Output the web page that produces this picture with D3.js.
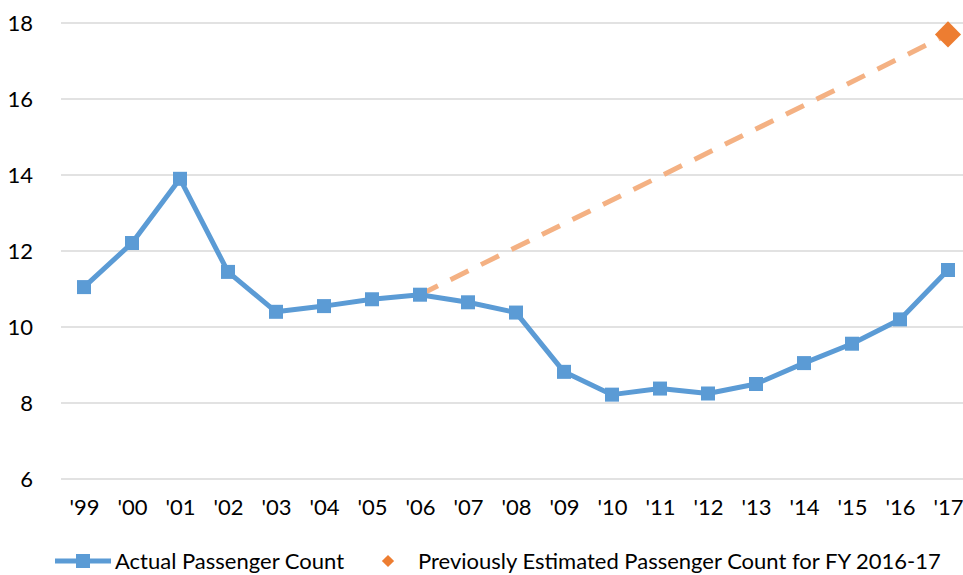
<!DOCTYPE html>
<html>
<head>
<meta charset="utf-8">
<script src="https://cdn.jsdelivr.net/npm/d3@7"></script>
<style>
  html, body { margin: 0; padding: 0; background: #fff; }
  svg { display: block; font-family: Lato, "Open Sans", sans-serif; }
</style>
</head>
<body>
<svg id="chart" width="963" height="575"></svg>
<script>
// Fiscal years shown along the x axis
const years = ["'99","'00","'01","'02","'03","'04","'05","'06","'07","'08","'09","'10","'11","'12","'13","'14","'15","'16","'17"];
// Actual passenger count (millions)
const actual = [11.05, 12.21, 13.9, 11.45, 10.4, 10.55, 10.73, 10.85, 10.65, 10.38, 8.82, 8.22, 8.38, 8.25, 8.5, 9.05, 9.56, 10.2, 11.5];
// Earlier projection: from the '06 actual to the FY 2016-17 estimate
const projYears = ["'06", "'17"];
const projValues = [10.85, 17.7];
const yTicks = [6, 8, 10, 12, 14, 16, 18];

const svg = d3.select("#chart");
const x = d3.scalePoint().domain(years).range([84, 948]);
const y = d3.scaleLinear().domain([6, 18]).range([479, 23]);

// Gridlines
svg.append("g").selectAll("line").data(yTicks).join("line")
  .attr("x1", 61).attr("x2", 963)
  .attr("y1", d => y(d)).attr("y2", d => y(d))
  .attr("stroke", "#d9d9d9").attr("stroke-width", 1.5);

// Y axis labels
const yAxis = svg.append("g").attr("transform", "translate(33,0)")
  .call(d3.axisLeft(y).tickValues(yTicks).tickSize(0).tickPadding(0).tickFormat(d3.format("d")));
yAxis.select(".domain").remove();
yAxis.selectAll("text").attr("font-size", 22).attr("fill", "#000").attr("font-family", "Lato, sans-serif");

// X axis labels
const xAxis = svg.append("g").attr("transform", "translate(0,499)")
  .call(d3.axisBottom(x).tickSize(0).tickPadding(0));
xAxis.select(".domain").remove();
xAxis.selectAll("text").attr("font-size", 22).attr("fill", "#000").attr("font-family", "Lato, sans-serif");

// Projection dashed line
svg.append("path")
  .datum(projYears.map((yr, i) => [yr, projValues[i]]))
  .attr("d", d3.line().x(d => x(d[0])).y(d => y(d[1])))
  .attr("fill", "none").attr("stroke", "#F4B183").attr("stroke-width", 5)
  .attr("stroke-dasharray", "20,14");

// Actual line
svg.append("path")
  .datum(years.map((yr, i) => [yr, actual[i]]))
  .attr("d", d3.line().x(d => x(d[0])).y(d => y(d[1])))
  .attr("fill", "none").attr("stroke", "#5B9BD5").attr("stroke-width", 5)
  .attr("stroke-linejoin", "round");

// Square markers
const sq = 14;
svg.append("g").selectAll("rect").data(years.map((yr, i) => [yr, actual[i]])).join("rect")
  .attr("x", d => x(d[0]) - sq / 2).attr("y", d => y(d[1]) - sq / 2)
  .attr("width", sq).attr("height", sq).attr("fill", "#5B9BD5");

// Estimate marker (diamond)
svg.append("path")
  .attr("d", d3.symbol(d3.symbolSquare, 340)())
  .attr("transform", `translate(${x(projYears[1])},${y(projValues[1])}) rotate(45)`)
  .attr("fill", "#ED7D31");

// Legend
const lg = svg.append("g").attr("transform", "translate(0,561)");
lg.append("line").attr("x1", 55).attr("x2", 111).attr("y1", 0).attr("y2", 0)
  .attr("stroke", "#5B9BD5").attr("stroke-width", 5);
lg.append("rect").attr("x", 76).attr("y", -7).attr("width", 14).attr("height", 14).attr("fill", "#5B9BD5");
lg.append("text").attr("x", 115).attr("y", 0).attr("dy", "0.35em")
  .attr("font-size", 22).text("Actual Passenger Count");
lg.append("path").attr("d", d3.symbol(d3.symbolSquare, 75)())
  .attr("transform", "translate(388,0) rotate(45)").attr("fill", "#ED7D31");
lg.append("text").attr("x", 418).attr("y", 0).attr("dy", "0.35em")
  .attr("font-size", 22).text("Previously Estimated Passenger Count for FY 2016-17");
</script>
</body>
</html>
